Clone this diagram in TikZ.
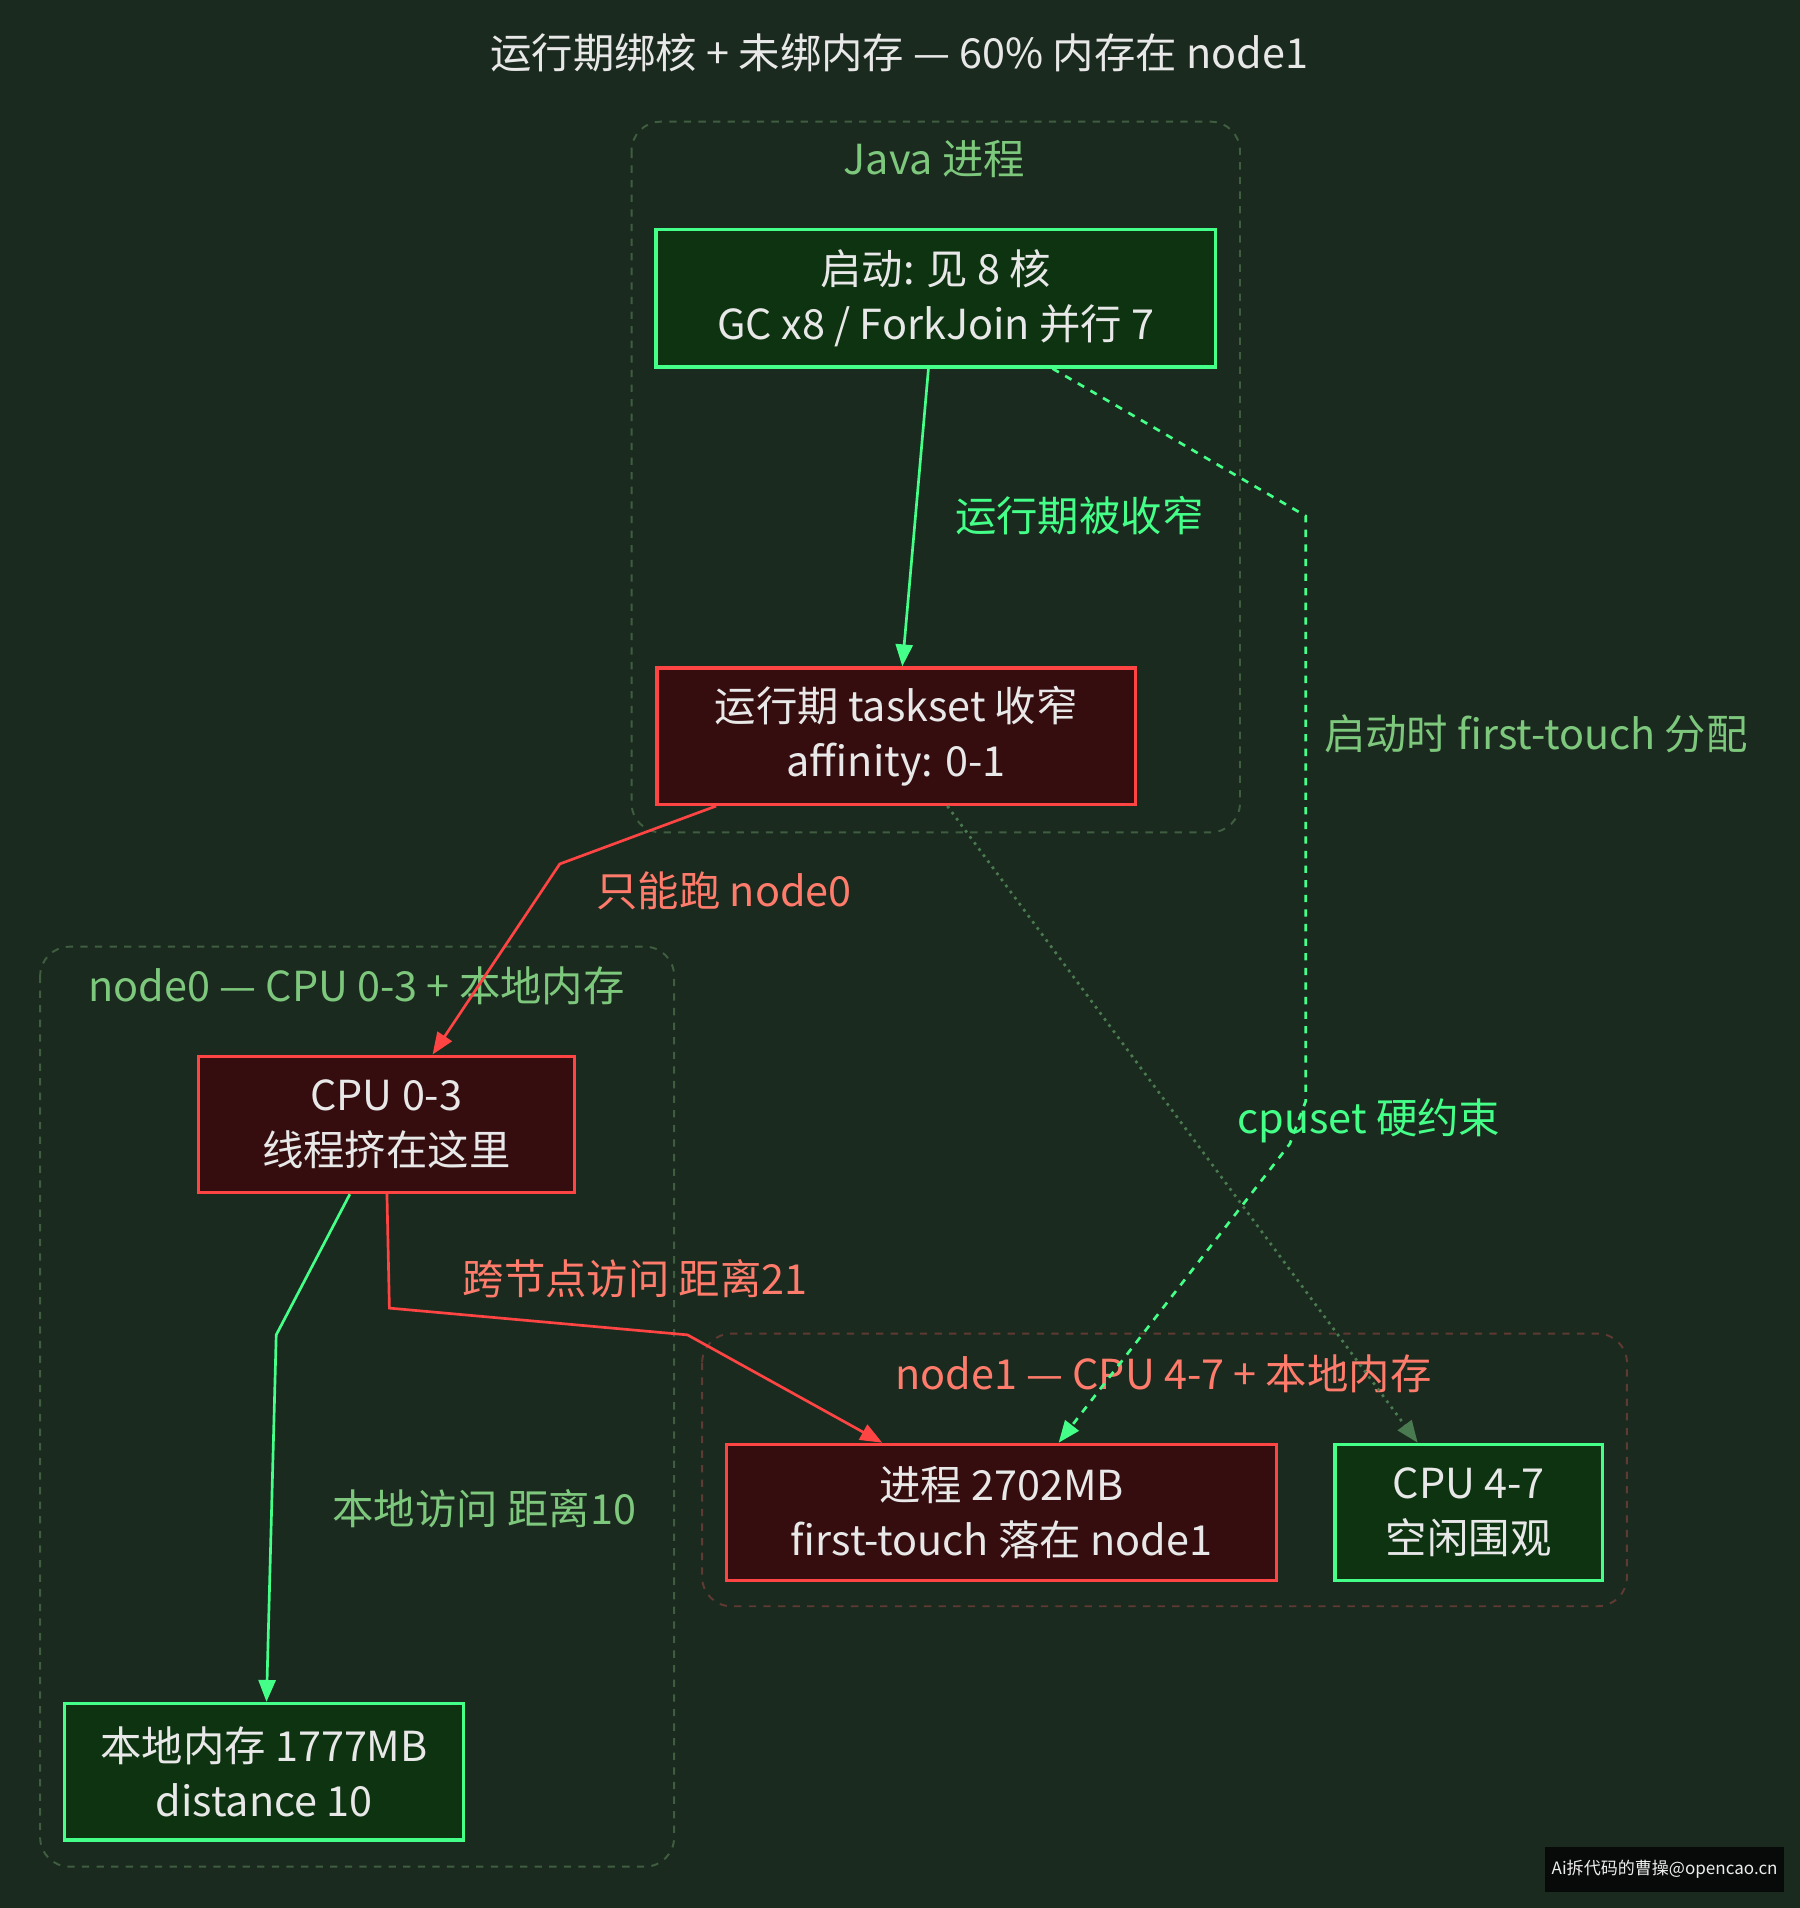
\documentclass[tikz,border=0pt]{standalone}
\usepackage{fontspec}
\setmainfont{Noto Sans CJK SC}
\usetikzlibrary{arrows.meta}
\definecolor{bg}{HTML}{1B2A1E}
\definecolor{gfill}{HTML}{0D3310}
\definecolor{gline}{HTML}{44FF88}
\definecolor{rfill}{HTML}{350D0F}
\definecolor{rline}{HTML}{FF4444}
\definecolor{cgreen}{HTML}{3F5E40}
\definecolor{cred}{HTML}{5E3A33}
\definecolor{lgreen}{HTML}{7DC87D}
\definecolor{salmon}{HTML}{FF7B6B}
\definecolor{txt}{HTML}{E8E8E8}
\definecolor{dim}{HTML}{4A7A50}
\begin{document}
\begin{tikzpicture}[x=0.5pt,y=-0.5pt,
  box/.style={draw,line width=1.4pt,inner sep=0pt,align=center,text=txt,font=\fontsize{17}{22.5}\selectfont},
  gbox/.style={box,fill=gfill,draw=gline},
  rbox/.style={box,fill=rfill,draw=rline},
  clus/.style={dashed,line width=0.8pt,rounded corners=12pt},
  lab/.style={font=\fontsize{17}{21}\selectfont},
  arr/.style={line width=1.1pt,-{Triangle[length=9pt,width=7pt]}}]
\fill[bg] (0,0) rectangle (1479,1568);
\useasboundingbox (0,0) rectangle (1479,1568);
\node[lab,text=txt] (title) at (739,43) {运行期绑核 + 未绑内存 — 60\% 内存在 node1};
% clusters
\draw[clus,draw=cgreen] (519,100) rectangle (1019,684);
\node[lab,text=lgreen] (cj) at (768,131) {Java 进程};
\draw[clus,draw=cgreen] (33,778) rectangle (554,1534);
\node[lab,text=lgreen] (c0) at (293,810) {node0 — CPU 0-3 + 本地内存};
\draw[clus,draw=cred] (577,1096) rectangle (1337,1320);
\node[lab,text=salmon] (c1) at (956,1129) {node1 — CPU 4-7 + 本地内存};
% nodes
\node[gbox,minimum width=230pt,minimum height=56.5pt] (A) at (769,245) {启动: 见 8 核\\GC x8 / ForkJoin 并行 7};
\node[rbox,minimum width=196.5pt,minimum height=56pt] (B) at (736.5,605) {运行期 taskset 收窄\\affinity: 0-1};
\node[rbox,minimum width=154.5pt,minimum height=56pt] (C) at (317.5,924) {CPU 0-3\\线程挤在这里};
\node[gbox,minimum width=164pt,minimum height=56pt] (D) at (217,1456) {本地内存 1777MB\\distance 10};
\node[rbox,minimum width=226pt,minimum height=56pt] (E) at (823,1243) {进程 2702MB\\first-touch 落在 node1};
\node[gbox,minimum width=110pt,minimum height=56pt] (F) at (1207,1243) {CPU 4-7\\空闲围观};
% edges
\draw[arr,gline] ([xshift=-3pt]A.south) -- ([xshift=2.5pt]B.north);
\node[lab,text=gline] (l1) at (887,424) {运行期被收窄};
\coordinate (p1) at (1073,424); \coordinate (p2) at (1073,905); \coordinate (p3) at (1060,940);
\draw[arr,gline,dashed] ([xshift=48pt]A.south) -- (p1) -- (p2) -- (p3) -- ([xshift=23.5pt]E.north);
\node[lab,text=lgreen,anchor=west] (l2) at (1081,603) {启动时 first-touch 分配};
\node[lab,text=gline] (l3) at (1125,921) {cpuset 硬约束};
\draw[dim,line width=1.1pt,dotted,-{Triangle[length=9pt,width=7pt,fill=dim]}] ([xshift=21pt]B.south) -- ([xshift=-21pt]F.north);
\coordinate (q1) at (460,710);
\draw[arr,rline] ([xshift=-74pt]B.south) -- (q1) -- ([xshift=19pt]C.north);
\node[lab,text=salmon] (l4) at (595,732) {只能跑 node0};
\coordinate (r1) at (320,1075); \coordinate (r2) at (565,1097);
\draw[arr,rline] ([xshift=0.25pt]C.south) -- (r1) -- (r2) -- ([xshift=-49pt]E.north);
\node[lab,text=salmon] (l5) at (522,1051) {跨节点访问 距离21};
\coordinate (s1) at (227,1097);
\draw[arr,gline] ([xshift=-15pt]C.south) -- (s1) -- ([xshift=1pt]D.north);
\node[lab,text=lgreen] (l6) at (398,1240) {本地访问 距离10};
\node[fill=black!75!bg,text=txt!80,font=\fontsize{7}{8}\selectfont,minimum width=98pt,minimum height=18.5pt,inner sep=0pt] (wm) at (1368,1536.5) {Ai拆代码的曹操@opencao.cn};
\end{tikzpicture}
\end{document}
